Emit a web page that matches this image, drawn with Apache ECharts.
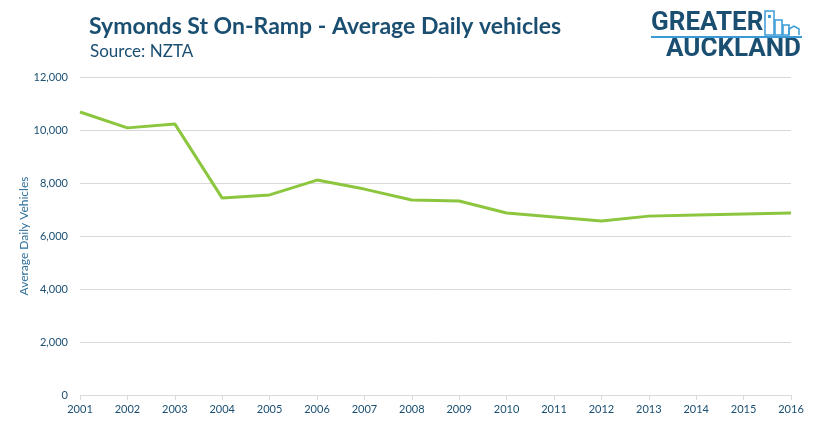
<!DOCTYPE html>
<html><head><meta charset="utf-8">
<script src="https://cdn.jsdelivr.net/npm/echarts@6/dist/echarts.min.js"></script>
<style>html,body{margin:0;padding:0;background:#fff}#c{width:818px;height:426px}</style>
</head><body><div id="c"></div>
<script>
const years = ['2001','2002','2003','2004','2005','2006','2007','2008','2009','2010','2011','2012','2013','2014','2015','2016'];
const vehicles = [10680,10080,10230,7430,7550,8110,7770,7360,7320,6870,6720,6570,6750,6790,6830,6870];
const yTicks = [0,2000,4000,6000,8000,10000,12000];

const navy = '#1b4f72';
const light = '#3b9ad6';
const chart = echarts.init(document.getElementById('c'));
chart.setOption({
  animation: false,
  textStyle: {fontFamily: 'Lato'},
  title: [
    {text: 'Symonds St On-Ramp - Average Daily vehicles', left: 84, top: 10,
     textStyle: {fontFamily: 'Lato', fontWeight: 'bold', fontSize: 23, color: navy}},
    {text: 'Source: NZTA', left: 85, top: 38,
     textStyle: {fontFamily: 'Lato', fontWeight: 'normal', fontSize: 17, color: navy}}
  ],
  grid: {left: 80, right: 27, top: 77, bottom: 31},
  xAxis: {
    type: 'category', data: years, boundaryGap: false,
    axisLine: {lineStyle: {color: '#d9d9d9'}},
    axisTick: {show: true, alignWithLabel: true, lineStyle: {color: '#d9d9d9'}},
    axisLabel: {color: navy, fontSize: 11, margin: 9}
  },
  yAxis: {
    type: 'value', min: 0, max: 12000, interval: 2000,
    name: 'Average Daily Vehicles', nameLocation: 'middle', nameGap: 50,
    nameMoveOverlap: false,
    nameTextStyle: {color: '#2f6f9a', fontSize: 12},
    axisLine: {show: false}, axisTick: {show: false},
    splitLine: {lineStyle: {color: '#d9d9d9'}},
    axisLabel: {color: navy, fontSize: 11, margin: 12,
      formatter: v => yTicks.includes(v) ? v.toLocaleString('en-US') : ''}
  },
  series: [{
    type: 'line', data: vehicles, symbol: 'none',
    lineStyle: {color: '#8cc63e', width: 3}
  }],
  graphic: [
    {type: 'text', left: 651, top: 10, style: {text: 'GREATER', font: 'bold 26px "Roboto"', fill: navy}},
    {type: 'text', left: 666, top: 36, style: {text: 'AUCKLAND', font: 'bold 26px "Roboto"', fill: navy}},
    {type: 'rect', shape: {x: 651, y: 36, width: 151, height: 2}, style: {fill: light}},
    {type: 'group', children: [
      {type: 'rect', shape: {x: 765, y: 11, width: 9, height: 24}, style: {fill: 'none', stroke: light, lineWidth: 1.5}},
      {type: 'rect', shape: {x: 768, y: 15, width: 3, height: 3}, style: {fill: light}},
      {type: 'rect', shape: {x: 775, y: 20, width: 7, height: 15}, style: {fill: 'none', stroke: light, lineWidth: 1.5}},
      {type: 'rect', shape: {x: 783, y: 25, width: 6, height: 10}, style: {fill: 'none', stroke: light, lineWidth: 1.5}},
      {type: 'polyline', shape: {points: [[789,35],[789,29],[794,26],[799,29],[799,35]]}, style: {fill: 'none', stroke: light, lineWidth: 1.5}}
    ]}
  ]
});
</script></body></html>
